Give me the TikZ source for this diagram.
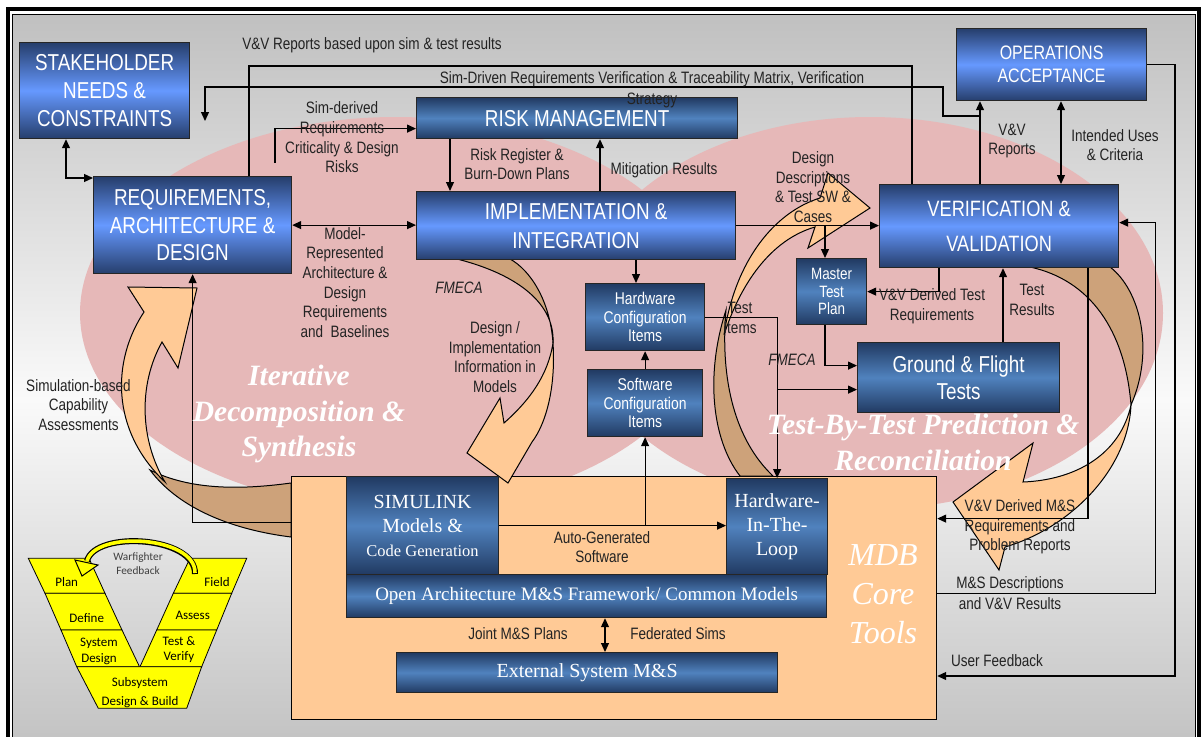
\documentclass[tikz,border=0pt]{standalone}
\usepackage{fontspec}
\setmainfont{Liberation Serif}
\newfontfamily\narr[FakeStretch=0.82]{Liberation Sans}
\newfontfamily\calib{Carlito}
\usetikzlibrary{arrows.meta,calc}
\definecolor{bdark}{RGB}{38,62,108}
\definecolor{blight}{RGB}{102,153,255}
\definecolor{sdark}{RGB}{33,58,98}
\definecolor{slight}{RGB}{80,130,190}
\definecolor{pinkb}{RGB}{230,184,184}
\definecolor{peach}{RGB}{255,202,150}
\definecolor{tanc}{RGB}{205,162,122}
\definecolor{bgg}{RGB}{192,192,192}
\definecolor{bgw}{RGB}{250,250,250}
\definecolor{vyel}{RGB}{255,255,0}
\definecolor{lblc}{RGB}{35,35,35}
\begin{document}
\begin{tikzpicture}[x=1pt,y=-1pt,
  bigbox/.style={draw=black!85, line width=1.2pt, top color=bdark, bottom color=bdark, middle color=blight, text=white, align=center, inner sep=0pt, anchor=north west, font=\narr\fontsize{23}{28}\selectfont},
  smallbox/.style={draw=black!85, line width=1.2pt, top color=sdark, bottom color=sdark, middle color=slight, text=white, align=center, inner sep=0pt, anchor=north west, font=\narr\fontsize{17}{18.3}\selectfont},
  serifbox/.style={smallbox, font=\fontsize{20}{24}\selectfont},
  ln/.style={line width=1.2pt, draw=black},
  arr/.style={ln, -{Triangle[length=9pt,width=8pt]}},
  darr/.style={ln, {Triangle[length=9pt,width=8pt]}-{Triangle[length=9pt,width=8pt]}},
  lbl/.style={font=\narr\fontsize{16.5}{19.7}\selectfont, align=center, text=lblc, inner sep=0pt},
  cfront/.style={fill=peach, draw=black, line width=1pt},
  cback/.style={fill=tanc, draw=black, line width=1pt},
  vband/.style={fill=vyel, draw=black, line width=0.8pt},
  vtxt/.style={font=\calib\fontsize{13}{15.5}\selectfont, align=center, inner sep=0pt},
  bigital/.style={font=\bfseries\itshape\fontsize{29.5}{35.5}\selectfont, text=white, align=center, inner sep=0pt}
]
\useasboundingbox (0,0) rectangle (1201,736);
\fill[white] (0,0) rectangle (1201,736);
% background
\shade[top color=bgg, bottom color=bgw] (12,14) rectangle (1195,400);
\shade[top color=bgw, bottom color=bgg] (12,399.5) rectangle (1195,760);
\draw[line width=3.5pt] (8,9) rectangle (1199,790);
\draw[line width=1pt] (12.5,14) rectangle (1195,790);
% pink blobs
\fill[pinkb] (396,313) ellipse [x radius=316, y radius=196];
\fill[pinkb] (870,313) ellipse [x radius=293, y radius=196];
% MDB box
\node[draw=black, line width=1.2pt, fill=peach, anchor=north west, minimum width=645pt, minimum height=243pt, inner sep=0pt] (mdb) at (291,476) {};
% curved arrows
% A (left)
\path[cback] (150,470) .. controls (180,510) and (235,530) .. (291,537) -- (291,483) .. controls (240,490) and (190,490) .. (150,470) -- cycle;
\path[cfront] (144,312) .. controls (112,360) and (110,430) .. (165,482) .. controls (140,440) and (138,385) .. (162,342) -- (178,368) -- (197,288) -- (128,287) -- cycle;
% B (middle)
\path[cback] (457,259) .. controls (520,275) and (555,305) .. (553,343) .. controls (550,300) and (530,270) .. (510,259) -- cycle;
\path[cfront] (553,343) .. controls (556,390) and (545,425) .. (532,442) -- (508,483) -- (467,453) -- (500,398) -- (504,423) .. controls (530,400) and (548,375) .. (553,343) -- cycle;
% C (right-middle)
\path[cback] (726,310) .. controls (705,375) and (712,440) .. (740,476) -- (773,476) .. controls (735,440) and (720,380) .. (726,310) -- cycle;
\path[cfront] (820,198) .. controls (775,212) and (735,260) .. (724,335) .. controls (740,285) and (770,240) .. (815,227) -- (808,248) -- (870,208) -- (828,173) -- cycle;
% D (right)
\path[cback] (1030,267) .. controls (1090,280) and (1125,330) .. (1131,405) .. controls (1155,350) and (1140,290) .. (1110,267) -- cycle;
\path[cfront] (1131,405) .. controls (1120,455) and (1075,480) .. (1023,482) -- (1033,443) -- (953,502) -- (999,570) -- (1005,547) .. controls (1070,528) and (1128,470) .. (1131,405) -- cycle;
% boxes
\node[bigbox, minimum width=170pt, minimum height=96pt] (sh) at (19,42) {STAKEHOLDER\\NEEDS \&\\CONSTRAINTS};
\node[bigbox, minimum width=198pt, minimum height=97pt, font=\narr\fontsize{23}{27.5}\selectfont] (req) at (93,176) {REQUIREMENTS,\\ARCHITECTURE \&\\DESIGN};
\node[smallbox, minimum width=321pt, minimum height=41pt, font=\narr\fontsize{23}{28}\selectfont] (risk) at (416,97) {RISK MANAGEMENT};
\node[bigbox, minimum width=319pt, minimum height=68pt, font=\narr\fontsize{23}{29}\selectfont] (impl) at (416,191) {IMPLEMENTATION \&\\INTEGRATION};
\node[bigbox, minimum width=190pt, minimum height=72pt, font=\narr\fontsize{19.5}{23}\selectfont] (ops) at (956,28) {OPERATIONS\\ACCEPTANCE};
\node[bigbox, minimum width=239pt, minimum height=83pt, font=\narr\fontsize{22.2}{35}\selectfont] (vv) at (879,184) {VERIFICATION \&\\VALIDATION};
\node[smallbox, minimum width=70pt, minimum height=66pt, font=\narr\fontsize{16.4}{17.5}\selectfont] (mtp) at (796,258) {Master\\Test\\Plan};
\node[smallbox, minimum width=202pt, minimum height=70pt, font=\narr\fontsize{23}{27}\selectfont] (gft) at (857,342) {Ground \& Flight\\Tests};
\node[smallbox, minimum width=119pt, minimum height=67pt] (hwc) at (585,283) {Hardware\\Configuration\\Items};
\node[smallbox, minimum width=115pt, minimum height=67pt] (swc) at (587,369) {Software\\Configuration\\Items};
\node[serifbox, minimum width=152pt, minimum height=98pt] (sim) at (346,476) {SIMULINK\\Models \&\\{\fontsize{16.5}{24}\selectfont Code Generation}};
\node[serifbox, minimum width=101pt, minimum height=96pt] (hil) at (726,478) {Hardware-\\In-The-\\Loop};
\node[serifbox, minimum width=480pt, minimum height=43pt, font=\fontsize{19}{23}\selectfont] (oa) at (346,574) {Open Architecture M\&S Framework/ Common Models};
\node[serifbox, minimum width=381pt, minimum height=40pt] (ext) at (396,652) {External System M\&S};
% helper coordinates
\coordinate (sdend) at (205,121);
\coordinate (sdstart) at (980,116);
\coordinate (reqrisk) at (275,163);
\coordinate (ufc) at (1175,676);
\coordinate (mtpin) at ([xshift=29pt]mtp.north west);
\coordinate (gftlow) at ([yshift=-12pt]gft.west);
% connectors
\draw[ln] ([xshift=156pt]req.north west) -- (249,66) -- (912,66) -- ([xshift=33pt]vv.north west);
\draw[arr] ([xshift=101pt]vv.north west) -- ([xshift=24pt]ops.south west);
\draw[arr] (sdstart) -- (943,116) -- (943,87) -- (205,87) -- (sdend);
\draw[darr] ([xshift=105pt]ops.south west) -- ([xshift=182pt]vv.north west);
\draw[arr] (reqrisk) |- ([yshift=-10.5pt]risk.west);
\draw[darr] (req.east) -- (req.east -| impl.west);
\draw[darr] ([xshift=47pt]sh.south west) |- ([yshift=-2pt]req.north west);
\draw[arr] ([xshift=34pt]risk.south west) -- ([xshift=34pt]impl.north west);
\draw[arr] ([xshift=184pt]impl.north west) -- ([xshift=184pt]risk.south west);
\draw[arr] (impl.east) -- (impl.east -| vv.west);
\draw[arr] (mtpin |- impl.east) -- (mtpin);
\draw[arr] ([xshift=220pt]impl.south west) -- ([xshift=51pt]hwc.north west);
\draw[arr] (swc.north) -- (swc.north |- hwc.south);
\draw[arr] (sim.east) -- (sim.east -| hil.west);
\draw[arr] (swc.south |- sim.east) -- (swc.south);
\draw[arr] (hwc.east) -| (hil.north);
\draw[arr] (hil.north |- gftlow) -- (gftlow);
\draw[arr] ([xshift=29pt]mtp.south west) |- ([yshift=12pt]gft.west);
\draw[arr] ([xshift=60pt]vv.south west) |- (mtp.east);
\draw[arr] ([xshift=146pt]gft.north west) -- ([xshift=124pt]vv.south west);
\draw[arr] (ops.east) -| (ufc) -- (ufc -| mdb.east);
\draw[arr] ([xshift=209pt]vv.south west) |- ([yshift=79.5pt]mdb.east);
\draw[arr] ([yshift=4.5pt]mdb.east) -| ([yshift=3.5pt,xshift=36pt]vv.east) -- ([yshift=3.5pt]vv.east);
\draw[darr] ([xshift=259pt]oa.south west) -- ([xshift=209pt]ext.north west);
\draw[arr] ([yshift=75.5pt]mdb.west) -| (req.south);
% labels
\node[lbl] (l1) at (372,45) {V\&V Reports based upon sim \& test results};
\node[lbl, font=\narr\fontsize{16.5}{21}\selectfont] (l2) at (652,89.5) {Sim-Driven Requirements Verification \& Traceability Matrix, Verification\\Strategy};
\node[lbl] (l3) at (342,137.5) {Sim-derived\\Requirements\\Criticality \& Design\\Risks};
\node[lbl] (l4) at (345,282.5) {Model-\\Represented\\Architecture \&\\Design\\Requirements\\and~~Baselines};
\node[lbl] (l5) at (517,164) {Risk Register \&\\Burn-Down Plans};
\node[lbl] (l6) at (664,170) {Mitigation Results};
\node[lbl] (l7) at (813,187) {Design\\Descriptions\\\& Test SW \&\\Cases};
\node[lbl, font=\narr\itshape\fontsize{16.5}{19.7}\selectfont] (l8) at (459,288) {FMECA};
\node[lbl] (l9) at (495,357) {Design /\\Implementation\\Information in\\Models};
\node[lbl] (l10) at (740,318) {Test\\Items};
\node[lbl, font=\narr\itshape\fontsize{16.5}{19.7}\selectfont] (l11) at (792,360) {FMECA};
\node[lbl] (l12) at (932,306) {V\&V Derived Test\\Requirements};
\node[lbl] (l13) at (1032,300) {Test\\Results};
\node[lbl] (l14) at (1012,141) {V\&V\\Reports};
\node[lbl] (l15) at (1115,145) {Intended Uses\\\& Criteria};
\node[lbl] (l16) at (78.5,405) {Simulation-based\\Capability\\Assessments};
\node[lbl] (l17) at (602,547) {Auto-Generated\\Software};
\node[lbl] (l18) at (518,634) {Joint M\&S Plans};
\node[lbl] (l19) at (678,634) {Federated Sims};
\node[lbl] (l20) at (1020,527) {V\&V Derived M\&S\\Requirements and\\Problem Reports};
\node[lbl, font=\narr\fontsize{16.5}{21}\selectfont] (l21) at (1010,593.5) {M\&S Descriptions\\and V\&V Results};
\node[lbl] (l22) at (997,661) {User Feedback};
% big italic labels
\node[bigital] (it1) at (299,414) {Iterative\\Decomposition \&\\Synthesis};
\node[bigital] (it2) at (923,442.5) {Test-By-Test Prediction \&\\Reconciliation};
\node[font=\itshape\fontsize{32}{39}\selectfont, text=white, align=center, inner sep=0pt] (it3) at (883,594) {MDB\\Core\\Tools};
% V diagram
\path[vband] (28.3,558.3) -- (89,558.3) -- (105,593.3) -- (45,593.3) -- cycle;
\path[vband] (45,593.3) -- (105,593.3) -- (122,630) -- (61,630) -- cycle;
\path[vband] (61,630) -- (122,630) -- (139.5,666.7) -- (76.7,666.7) -- cycle;
\path[vband] (190,558.3) -- (246.7,558.3) -- (231.7,593.3) -- (173.3,593.3) -- cycle;
\path[vband] (173.3,593.3) -- (231.7,593.3) -- (216.7,630) -- (156.7,630) -- cycle;
\path[vband] (156.7,630) -- (216.7,630) -- (201.7,666.7) -- (140,666.7) -- cycle;
\path[vband] (76.7,666.7) -- (201.7,666.7) -- (186.7,708.3) -- (98.3,708.3) -- cycle;
\draw[line width=6pt, black] (195,574) .. controls (196,536) and (95,530) .. (87,561);
\draw[line width=3.6pt, vyel] (195,573) .. controls (196,536) and (95,530) .. (87,561);
\path[fill=vyel, draw=black, line width=1pt] (75,560) -- (98,565) -- (82,576) -- cycle;
\node[vtxt] (vplan) at (66.7,581.7) {Plan};
\node[vtxt] (vdef) at (86.7,617.7) {Define};
\node[vtxt] (vsd) at (99,651.5) {System\\Design};
\node[vtxt] (vfield) at (217,582) {Field};
\node[vtxt] (vass) at (192.7,615) {Assess};
\node[vtxt] (vtv) at (179,649.5) {Test \&\\Verify};
\node[vtxt, font=\calib\fontsize{13}{19}\selectfont] (vsub) at (140,692.5) {Subsystem\\Design \& Build};
\node[font=\calib\fontsize{11.3}{14}\selectfont, text=black!75, align=center, inner sep=0pt] (vwf) at (138,564) {Warfighter\\Feedback};
\end{tikzpicture}
\end{document}
